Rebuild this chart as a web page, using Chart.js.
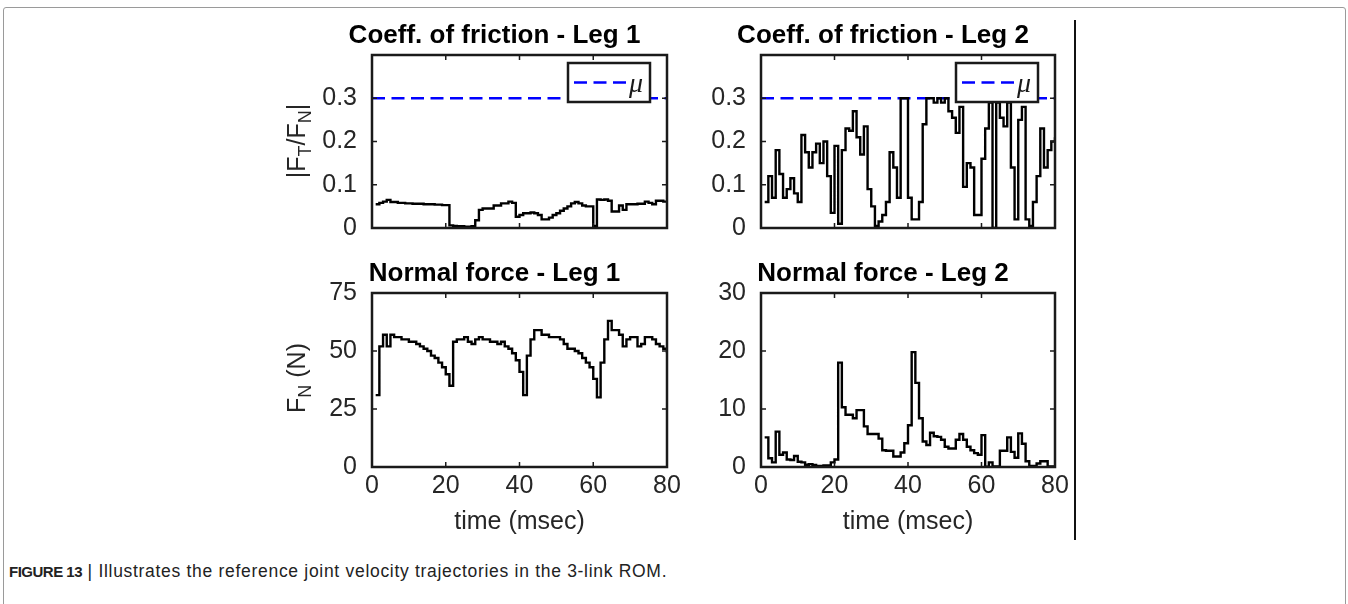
<!DOCTYPE html>
<html lang="en">
<head>
<meta charset="UTF-8" />
<title>Coefficient of friction and normal force - Leg 1 / Leg 2</title>
<script src="https://cdn.jsdelivr.net/npm/chart.js"></script>
<style>
  html, body { margin: 0; padding: 0; background: #fff; }
  body { width: 1348px; height: 604px; position: relative; overflow: hidden; font-family: "Liberation Sans", Arial, sans-serif; }
  .frame { position: absolute; left: 3px; top: 7px; width: 1341px; height: 640px; border: 1px solid #9a9a9a; border-radius: 3px; }
  canvas { position: absolute; }
  .ylabel { position: absolute; font-size: 25px; line-height: 25px; color: #262626; white-space: nowrap; transform: translate(-50%, -50%) rotate(-90deg); }
  .ylabel sub { font-size: 18px; line-height: 0; vertical-align: -6px; }
  .divider { position: absolute; left: 1074px; top: 20px; width: 2px; height: 520px; background: #111; }
  .caption { position: absolute; left: 9px; top: 561px; font-size: 17.5px; letter-spacing: 0.7px; color: #222; white-space: nowrap; }
  .caption b { font-size: 15px; letter-spacing: -0.5px; }
</style>
</head>
<body>
  <div class="frame"></div>
  <canvas id="frictionLeg1Chart"></canvas>
  <canvas id="frictionLeg2Chart"></canvas>
  <canvas id="normalLeg1Chart"></canvas>
  <canvas id="normalLeg2Chart"></canvas>
  <div class="ylabel" style="left:296px; top:141px;">|F<sub>T</sub>/F<sub>N</sub>|</div>
  <div class="ylabel" style="left:296px; top:378px;">F<sub>N</sub> (N)</div>
  <div class="divider"></div>
  <div class="caption"><b>FIGURE 13</b> | Illustrates the reference joint velocity trajectories in the 3-link ROM.</div>

<script>
// sample times (msec)
const timeMs = [
  1, 2, 3, 4, 5, 6, 7, 8, 9, 10, 11, 12, 13, 14, 15, 16, 17, 18, 19, 20,
  21, 22, 23, 24, 25, 26, 27, 28, 29, 30, 31, 32, 33, 34, 35, 36, 37, 38, 39, 40,
  41, 42, 43, 44, 45, 46, 47, 48, 49, 50, 51, 52, 53, 54, 55, 56, 57, 58, 59, 60,
  61, 62, 63, 64, 65, 66, 67, 68, 69, 70, 71, 72, 73, 74, 75, 76, 77, 78, 79, 80
];

// |FT/FN| leg 1
const frictionLeg1 = [
  0.055, 0.058, 0.061, 0.065, 0.060, 0.060, 0.058, 0.058, 0.057, 0.057,
  0.056, 0.056, 0.056, 0.055, 0.055, 0.055, 0.054, 0.054, 0.053, 0.053,
  0.006, 0.005, 0.004, 0.004, 0.003, 0.003, 0.004, 0.018, 0.042, 0.045,
  0.045, 0.045, 0.052, 0.052, 0.057, 0.057, 0.061, 0.058, 0.026, 0.030,
  0.034, 0.034, 0.036, 0.034, 0.030, 0.020, 0.020, 0.024, 0.030, 0.034,
  0.040, 0.045, 0.050, 0.057, 0.060, 0.057, 0.052, 0.050, 0.050, 0.005,
  0.066, 0.065, 0.066, 0.063, 0.038, 0.038, 0.052, 0.042, 0.055, 0.055,
  0.055, 0.056, 0.056, 0.061, 0.058, 0.055, 0.063, 0.063, 0.061, 0.063
];

// |FT/FN| leg 2
const frictionLeg2 = [
  0.060, 0.120, 0.070, 0.180, 0.125, 0.070, 0.090, 0.115, 0.080, 0.060,
  0.215, 0.175, 0.140, 0.175, 0.195, 0.150, 0.200, 0.120, 0.035, 0.190,
  0.010, 0.180, 0.230, 0.225, 0.270, 0.210, 0.170, 0.235, 0.090, 0.050,
  0.005, 0.015, 0.030, 0.060, 0.175, 0.140, 0.070, 0.300, 0.300, 0.070,
  0.020, 0.020, 0.060, 0.240, 0.300, 0.300, 0.290, 0.300, 0.290, 0.300,
  0.270, 0.255, 0.220, 0.280, 0.095, 0.150, 0.140, 0.030, 0.030, 0.160,
  0.230, 0.290, 0.000, 0.290, 0.255, 0.235, 0.290, 0.140, 0.020, 0.250,
  0.280, 0.020, 0.005, 0.060, 0.120, 0.230, 0.140, 0.180, 0.200, 0.210
];

// normal force leg 1 (N)
const normalLeg1 = [
  31, 52, 57, 52, 57, 56, 56, 55, 55, 54,
  54, 53, 52, 51, 50, 48, 47, 45, 43, 40,
  35, 54, 55, 55, 56, 54, 53, 55, 56, 55,
  55, 54, 54, 53, 54, 52, 51, 49, 46, 41,
  31, 48, 55, 59, 59, 57, 57, 56, 56, 56,
  55, 53, 51, 51, 50, 49, 47, 45, 43, 38,
  30, 45, 55, 63, 59, 59, 57, 52, 55, 56,
  56, 52, 53, 56, 56, 55, 53, 52, 51, 49
];

// normal force leg 2 (N)
const normalLeg2 = [
  5.1, 1.5, 0.8, 6.1, 2.1, 2.5, 1.3, 1.2, 1.9, 0.9,
  0.8, 0.4, 0.5, 0.35, 0.2, 0.2, 0.25, 0.25, 0.8, 1.3,
  18.0, 10.3, 9.0, 9.0, 8.4, 9.8, 9.8, 7.0, 5.7, 5.7,
  5.7, 4.9, 2.9, 2.8, 2.8, 1.8, 1.8, 2.5, 4.1, 7.2,
  19.8, 14.5, 8.4, 4.4, 3.8, 5.9, 5.3, 5.2, 4.7, 3.5,
  3.2, 3.2, 4.7, 5.7, 4.7, 3.5, 2.9, 2.4, 2.1, 5.5,
  0.05, 0.8, 0.1, 0.1, 2.8, 2.8, 5.1, 2.6, 1.6, 5.8,
  4.0, 1.0, 0.2, 0.2, 0.6, 1.0, 1.0, 0.1, 0.1, 0.1
];

const muValue = 0.3;
const muSpan = [0, 80];

const timeRange = [0, 80];
const timeStep = 20;
const frictionRange = [0, 0.4];
const frictionTickLabels = [0, 0.1, 0.2, 0.3];
const normalLeg1Range = [0, 75];
const normalLeg1TickLabels = [0, 25, 50, 75];
const normalLeg2Range = [0, 30];
const normalLeg2TickLabels = [0, 10, 20, 30];

Chart.defaults.font.family = '"Liberation Sans", Arial, sans-serif';
Chart.defaults.color = '#262626';

// MATLAB style box with inward ticks, plus optional legend box
const matlabBox = {
  id: 'matlabBox',
  afterDatasetsDraw(chart, args, opts) {
    const { ctx, chartArea: a, scales: { x, y } } = chart;
    ctx.save();
    ctx.strokeStyle = '#1a1a1a';
    ctx.lineWidth = 1.5;
    const tl = 5;
    ctx.beginPath();
    x.ticks.forEach(tk => {
      const px = x.getPixelForValue(tk.value);
      ctx.moveTo(px, a.bottom); ctx.lineTo(px, a.bottom - tl);
      ctx.moveTo(px, a.top); ctx.lineTo(px, a.top + tl);
    });
    y.ticks.forEach(tk => {
      const py = y.getPixelForValue(tk.value);
      ctx.moveTo(a.left, py); ctx.lineTo(a.left + tl, py);
      ctx.moveTo(a.right, py); ctx.lineTo(a.right - tl, py);
    });
    ctx.stroke();
    ctx.lineWidth = 2.5;
    ctx.strokeRect(a.left, a.top, a.width, a.height);

    if (opts.legend) {
      const w = 82, h = 39;
      const bx = a.right - 17 - w, by = a.top + 8;
      ctx.fillStyle = '#fff';
      ctx.fillRect(bx, by, w, h);
      ctx.strokeRect(bx, by, w, h);
      ctx.beginPath();
      ctx.setLineDash([13, 6.5]);
      ctx.strokeStyle = '#0000ff';
      ctx.lineWidth = 2.5;
      ctx.moveTo(bx + 6, by + h / 2);
      ctx.lineTo(bx + 58, by + h / 2);
      ctx.stroke();
      ctx.setLineDash([]);
      ctx.fillStyle = '#1a1a1a';
      ctx.font = 'italic 28px "Liberation Serif", serif';
      ctx.textBaseline = 'alphabetic';
      ctx.fillText(opts.legend, bx + 61, by + 29);
    }
    ctx.restore();
  }
};

function makePanel(id, rect, cfg) {
  const canvas = document.getElementById(id);
  // the y tick padding (15) plus half a label (15) is reserved below the plot by Chart.js,
  // so the bottom band must be at least 30 px even without x labels
  const padL = 130, padR = 80, padT = 50;
  const padB = cfg.showX ? 80 : 30;
  canvas.width = rect.r - rect.l + padL + padR;
  canvas.height = rect.b - rect.t + padT + padB;
  canvas.style.left = (rect.l - padL) + 'px';
  canvas.style.top = (rect.t - padT) + 'px';

  const datasets = [{
    data: timeMs.map((t, i) => ({ x: t, y: cfg.values[i] })),
    borderColor: '#000',
    borderWidth: 2.4,
    pointRadius: 0,
    stepped: true,
    fill: false
  }];
  if (cfg.legend) {
    datasets.push({
      label: cfg.legend,
      data: muSpan.map(t => ({ x: t, y: muValue })),
      borderColor: '#0000ff',
      borderWidth: 2.5,
      borderDash: [13, 6.5],
      pointRadius: 0,
      fill: false
    });
  }

  new Chart(canvas.getContext('2d'), {
    type: 'line',
    data: { datasets },
    plugins: [matlabBox],
    options: {
      responsive: false,
      animation: false,
      devicePixelRatio: 1,
      layout: { padding: 0 },
      plugins: {
        legend: { display: false },
        tooltip: { enabled: false },
        title: {
          display: true,
          text: cfg.title,
          color: '#000',
          font: { size: 26, weight: 'bold' },
          padding: { top: 15, bottom: 3.8 }
        },
        matlabBox: { legend: cfg.legend }
      },
      scales: {
        x: {
          type: 'linear',
          min: timeRange[0], max: timeRange[1],
          grid: { display: false, drawTicks: false },
          border: { display: false },
          ticks: { display: cfg.showX, stepSize: timeStep, padding: 4, maxRotation: 0, autoSkip: false, font: { size: 25 } },
          title: { display: cfg.showX, text: 'time (msec)', font: { size: 25 }, padding: { top: 0, bottom: 10 } },
          afterFit: s => { s.height = padB; }
        },
        y: {
          min: cfg.range[0], max: cfg.range[1],
          grid: { display: false, drawTicks: false },
          border: { display: false },
          ticks: {
            stepSize: cfg.step,
            padding: 15,
            autoSkip: false,
            font: { size: 25 },
            callback: v => cfg.labels.some(l => Math.abs(l - v) < 1e-9) ? String(v) : ''
          },
          afterFit: s => { s.width = padL; }
        },
        // empty right-hand scale, only reserves room so the title stays centred over the canvas
        yRight: {
          type: 'linear', position: 'right', min: 0, max: 1,
          grid: { display: false, drawTicks: false },
          border: { display: false },
          ticks: { display: false },
          afterFit: s => { s.width = padR; }
        }
      }
    }
  });
}

makePanel('frictionLeg1Chart', { l: 372, t: 55, r: 667, b: 228 }, {
  title: 'Coeff. of friction - Leg 1', values: frictionLeg1, range: frictionRange,
  step: 0.1, labels: frictionTickLabels, legend: '\u03bc', showX: false
});
makePanel('frictionLeg2Chart', { l: 761, t: 55, r: 1055, b: 228 }, {
  title: 'Coeff. of friction - Leg 2', values: frictionLeg2, range: frictionRange,
  step: 0.1, labels: frictionTickLabels, legend: '\u03bc', showX: false
});
makePanel('normalLeg1Chart', { l: 372, t: 293, r: 667, b: 467 }, {
  title: 'Normal force - Leg 1', values: normalLeg1, range: normalLeg1Range,
  step: 25, labels: normalLeg1TickLabels, showX: true
});
makePanel('normalLeg2Chart', { l: 761, t: 293, r: 1055, b: 467 }, {
  title: 'Normal force - Leg 2', values: normalLeg2, range: normalLeg2Range,
  step: 10, labels: normalLeg2TickLabels, showX: true
});
</script>
</body>
</html>
